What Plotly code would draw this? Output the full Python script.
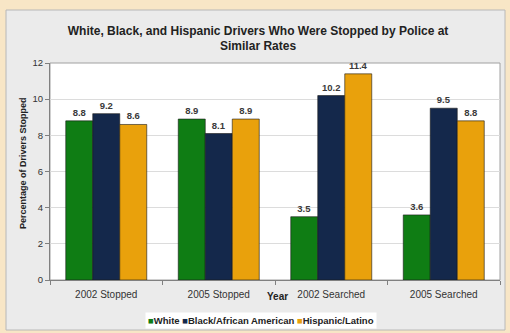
import plotly.graph_objects as go

categories = ["2002 Stopped", "2005 Stopped", "2002 Searched", "2005 Searched"]
white = [8.8, 8.9, 3.5, 3.6]
black = [9.2, 8.1, 10.2, 9.5]
hispanic = [8.6, 8.9, 11.4, 8.8]
series_names = ["White", "Black/African American", "Hispanic/Latino"]
colors = ["#0f7d14", "#14284b", "#e9a10c"]

W, H = 510, 333
L, R, T, B = 50, 10, 63, 53
pw, ph = W - L - R, H - T - B

def px2x(px):
    return (px - L) / pw

def py2y(py):
    return (H - B - py) / ph

font = "Arial, Liberation Sans, sans-serif"

fig = go.Figure()
for name, vals, col in zip(series_names, [white, black, hispanic], colors):
    fig.add_trace(go.Bar(
        x=categories, y=vals, name=name,
        marker=dict(color=col, line=dict(color="#1a1a1a", width=0.6)),
        texttemplate="<b>%{y:.1f}</b>", textposition="outside",
        textfont=dict(family=font, size=9.5, color="#3a3a3a"),
        cliponaxis=False, showlegend=False,
    ))

fig.update_layout(
    width=W, height=H,
    margin=dict(l=L, r=R, t=T, b=B),
    paper_bgcolor="#f8e6c6",
    plot_bgcolor="rgba(0,0,0,0)",
    barmode="group", bargap=0.28, bargroupgap=0,
    font=dict(family=font, size=9, color="#333333"),
    title=dict(
        text="<b>White, Black, and Hispanic Drivers Who Were Stopped by Police at<br>Similar Rates</b>",
        x=0.506, xref="container", xanchor="center",
        y=1 - 34.5 / H, yref="container", yanchor="middle",
        font=dict(family=font, size=12, color="#222222"),
    ),
    xaxis=dict(
        showgrid=False, showline=True, linecolor="#808080", linewidth=1,
        ticks="outside", tickson="boundaries", ticklen=4, tickcolor="#808080",
        tickfont=dict(size=10, color="#333333"), ticklabelstandoff=5,
    ),
    yaxis=dict(
        range=[0, 12], dtick=2, showgrid=True, gridcolor="#dcdcdc", gridwidth=1,
        showline=True, linecolor="#808080", linewidth=1, ticks="outside",
        ticklen=4, tickcolor="#808080", zeroline=False,
        tickfont=dict(size=9.5, color="#333333"),
    ),
    showlegend=False,
)

# Gray chart panel and white plot area
fig.add_shape(type="rect", xref="paper", yref="paper",
              x0=px2x(6), x1=px2x(505), y0=py2y(330), y1=py2y(10),
              fillcolor="#ebebeb", line=dict(color="#b8b8b8", width=1), layer="below")
fig.add_shape(type="rect", xref="paper", yref="paper",
              x0=0, x1=1, y0=0, y1=1,
              fillcolor="#ffffff", line=dict(color="#a0a0a0", width=1), layer="below")

# Y axis title
fig.add_annotation(text="<b>Percentage of Drivers Stopped</b>", xref="paper", yref="paper",
                   x=px2x(23), y=py2y(163), xanchor="center", yanchor="middle",
                   textangle=-90, showarrow=False,
                   font=dict(family=font, size=9, color="#222222"))

fig.add_annotation(text="<b>Year</b>", xref="paper", yref="paper",
                   x=px2x(277), y=py2y(296), xanchor="center", yanchor="middle",
                   showarrow=False,
                   font=dict(family=font, size=10, color="#222222"))

# Legend (compact, as in the reference)
legend_text = " ".join(
    f"<span style='color:{c}'>■</span>{n}" for n, c in zip(series_names, colors)
)
fig.add_annotation(text=f"<b>{legend_text}</b>", xref="paper", yref="paper",
                   x=px2x(261), y=py2y(320), xanchor="center", yanchor="middle",
                   showarrow=False, bgcolor="#ffffff", borderpad=2,
                   font=dict(family=font, size=9.5, color="#222222"))

fig.write_html("out.html")
